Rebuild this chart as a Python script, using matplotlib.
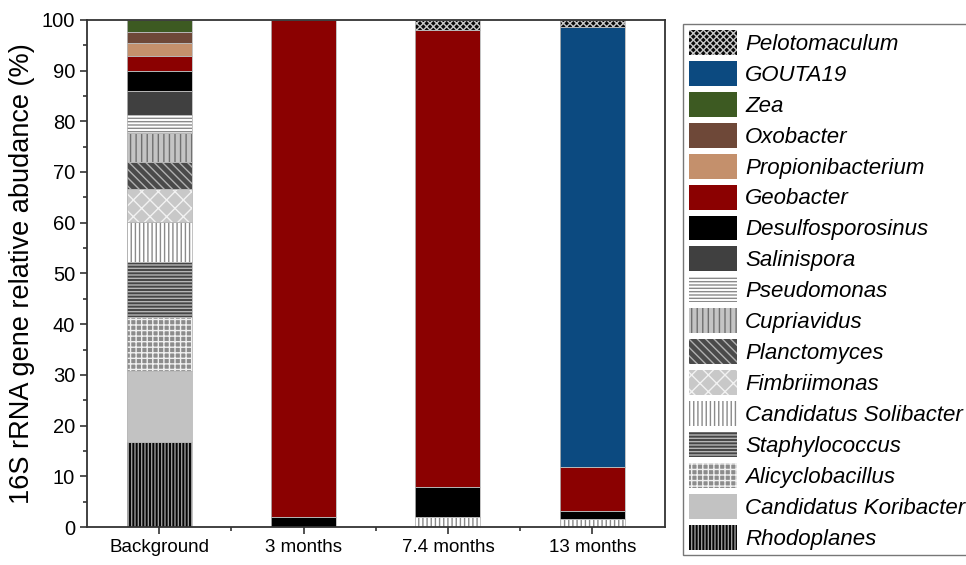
import matplotlib
matplotlib.use("Agg")
import matplotlib.pyplot as plt
from matplotlib.patches import Patch
from matplotlib.ticker import MultipleLocator, FixedLocator
import numpy as np

samples = ["Background", "3 months", "7.4 months", "13 months"]

# stacking order, bottom to top (legend shows it reversed)
taxa = ["Rhodoplanes", "Candidatus Koribacter", "Alicyclobacillus", "Staphylococcus",
        "Candidatus Solibacter", "Fimbriimonas", "Planctomyces", "Cupriavidus",
        "Pseudomonas", "Salinispora", "Desulfosporosinus", "Geobacter",
        "Propionibacterium", "Oxobacter", "Zea", "GOUTA19", "Pelotomaculum"]

rhodoplanes = [16.8, 0, 0, 0]
koribacter = [14.0, 0, 0, 0]
alicyclobacillus = [10.7, 0, 0, 0]
staphylococcus = [10.8, 0, 0, 0]
solibacter = [7.9, 0, 2.0, 1.7]
fimbriimonas = [6.5, 0, 0, 0]
planctomyces = [5.3, 0, 0, 0]
cupriavidus = [5.7, 0, 0, 0]
pseudomonas = [3.5, 0, 0, 0]
salinispora = [4.7, 0, 0, 0]
desulfosporosinus = [4.1, 2.0, 5.9, 1.4]
geobacter = [2.9, 98.0, 90.1, 8.7]
propionibacterium = [2.5, 0, 0, 0]
oxobacter = [2.2, 0, 0, 0]
zea = [2.4, 0, 0, 0]
gouta19 = [0, 0, 0, 86.8]
pelotomaculum = [0, 0, 2.0, 1.4]

values = [rhodoplanes, koribacter, alicyclobacillus, staphylococcus, solibacter,
          fimbriimonas, planctomyces, cupriavidus, pseudomonas, salinispora,
          desulfosporosinus, geobacter, propionibacterium, oxobacter, zea,
          gouta19, pelotomaculum]

# (face, hatch colour, hatch)
styles = [
    ("#050505", "#9a9a9a", "|||||"),
    ("#c2c2c2", "#c2c2c2", None),
    ("#8c8c8c", "#f0f0f0", "+++"),
    ("#454545", "#b5b5b5", "-----"),
    ("#ffffff", "#8a8a8a", "||||"),
    ("#c8c8c8", "#f2f2f2", "xx"),
    ("#4a4a4a", "#b0b0b0", "\\\\\\\\"),
    ("#c4c4c4", "#707070", "|||"),
    ("#ffffff", "#8a8a8a", "-----"),
    ("#404040", "#404040", None),
    ("#000000", "#000000", None),
    ("#8b0101", "#8b0101", None),
    ("#c4906c", "#c4906c", None),
    ("#6e4838", "#6e4838", None),
    ("#3d5a22", "#3d5a22", None),
    ("#0c4a80", "#0c4a80", None),
    ("#0a0a0a", "#c8c8c8", "xxxxx"),
]

plt.rcParams['font.family'] = ['Liberation Sans', 'DejaVu Sans']
plt.rcParams['hatch.linewidth'] = 1.0

fig = plt.figure(figsize=(9.66, 5.65), dpi=100)
ax = fig.add_axes([0.090, 0.067, 0.598, 0.898])

x = np.arange(len(samples))
bottom = np.zeros(len(samples))
handles = []
for name, v, (fc, hc, h) in zip(taxa, values, styles):
    v = np.array(v, dtype=float)
    ax.bar(x, v, 0.45, bottom=bottom, color=fc, edgecolor=hc, hatch=h, linewidth=0)
    # thin light line between segments
    ax.bar(x, v, 0.45, bottom=bottom, facecolor="none", edgecolor="#b8b8b8", linewidth=0.6)
    handles.append(Patch(facecolor=fc, edgecolor=hc, hatch=h, linewidth=0, label=name))
    bottom += v

ax.set_xlim(-0.5, 3.5)
ax.set_ylim(0, 100)
ax.set_xticks(x)
ax.set_xticklabels(samples, fontsize=13.5)
ax.xaxis.set_minor_locator(FixedLocator([0.5, 1.5, 2.5]))
ax.yaxis.set_major_locator(MultipleLocator(10))
ax.yaxis.set_minor_locator(MultipleLocator(5))
ax.tick_params(axis='y', labelsize=14.5)
ax.tick_params(which='major', direction='out', length=5, width=1.2, color='#333333')
ax.tick_params(which='minor', direction='out', length=3, width=1.2, color='#333333')
ax.set_ylabel("16S rRNA gene relative abudance (%)", fontsize=19.5, labelpad=5)
for s in ax.spines.values():
    s.set_linewidth(1.3)
    s.set_color('#333333')

leg = fig.legend(handles=handles[::-1], loc='upper left', bbox_to_anchor=(0.707, 0.957),
                 prop={'style': 'italic', 'size': 16}, handlelength=2.2, handleheight=1.35,
                 labelspacing=0.27, handletextpad=0.35, borderpad=0.25, borderaxespad=0,
                 frameon=True, fancybox=False, edgecolor='#555555')
leg.get_frame().set_linewidth(1.0)

fig.savefig("out.png", dpi=100)
